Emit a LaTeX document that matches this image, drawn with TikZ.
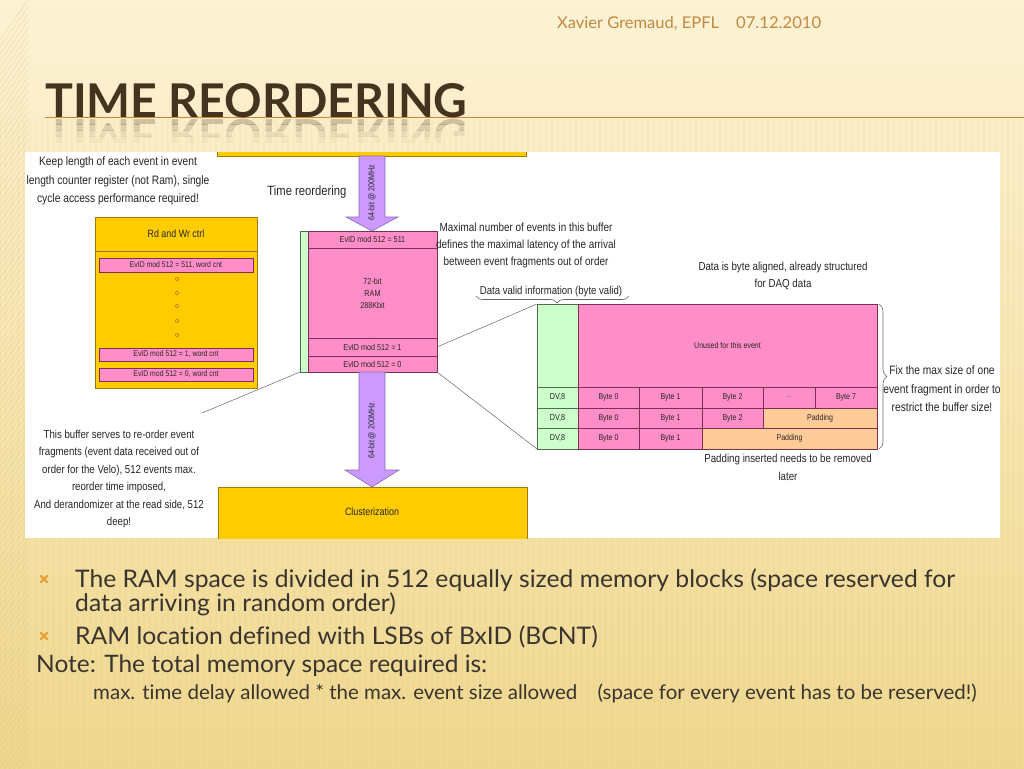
\documentclass[tikz,border=0pt]{standalone}
\usepackage{fontspec}
\setmainfont{Liberation Sans}
\newfontfamily\nar[FakeStretch=0.84]{Liberation Sans}
\newfontfamily\ttlfont{Lato}
\newfontfamily\bodyfont[FakeStretch=1.02,Ligatures=NoCommon]{Lato}
\usetikzlibrary{decorations.pathreplacing}
\definecolor{ylw}{HTML}{FFCC00}
\definecolor{ylwd}{HTML}{A07A10}
\definecolor{pnk}{HTML}{FF8EC8}
\definecolor{pnkd}{HTML}{7A3050}
\definecolor{grn}{HTML}{CCFFCC}
\definecolor{grnd}{HTML}{4F6A4F}
\definecolor{org}{HTML}{FFCC99}
\definecolor{prp}{HTML}{CC99FF}
\definecolor{prpd}{HTML}{8A6AB8}
\definecolor{ttl}{HTML}{45321F}
\definecolor{hdr}{HTML}{C08A3E}
\definecolor{bul}{HTML}{E8A33A}
\definecolor{btxt}{HTML}{3A342E}
\definecolor{txt}{HTML}{262626}
\definecolor{bgtop}{HTML}{FCF2D4}
\definecolor{bgmid}{HTML}{F7E6B2}
\definecolor{bgbot}{HTML}{EFD78E}
\newcommand{\fs}[2]{\fontsize{#1}{#2}\selectfont}
\newcommand{\boxn}[7]{\node[#6, minimum width={(#4-#2)*1pt}, minimum height={(#5-#3)*1pt}] (#1) at (#2,#3) {#7};}
\newcommand{\ttltext}{TIME REORDERING}
\tikzset{
  cellbase/.style={anchor=north west, inner sep=0pt, outer sep=0pt, align=center, text=txt},
  ycell/.style={cellbase, fill=ylw, draw=ylwd, line width=0.7pt},
  pcell/.style={cellbase, fill=pnk, draw=pnkd, line width=0.5pt, font=\nar\fs{8.6}{12}},
  gcell/.style={cellbase, fill=grn, draw=grnd, line width=0.5pt, font=\nar\fs{8.6}{12}},
  ocell/.style={cellbase, fill=org, draw=pnkd, line width=0.5pt, font=\nar\fs{8.6}{12}},
  dtext/.style={inner sep=0pt, align=center, text=txt},
  fatarr/.style={fill=prp, draw=prpd, line width=0.6pt},
  rlab/.style={rotate=90, inner sep=0pt, text=txt, font=\nar\fs{8.5}{10}},
  conn/.style={draw=black!60, line width=0.5pt},
  brc/.style={draw=black!60, line width=0.6pt, decorate},
  btext/.style={anchor=base west, inner sep=0pt, text=btxt},
  bmark/.style={draw=bul, line width=2.4pt, line cap=round},
  ttlstyle/.style={anchor=base west, inner sep=0pt, text=ttl, font=\ttlfont\bfseries\fs{46.5}{47}},
}
\begin{document}
\begin{tikzpicture}[x=1pt,y=-1pt]
\useasboundingbox (0,0) rectangle (1024,768);
% slide background
\shade[top color=bgtop, bottom color=bgbot, middle color=bgmid] (0,0) rectangle (1024,768);
\foreach \i in {0,6,...,1020} {
  \draw[bgbot!80!brown, opacity=0.10, line width=1.2pt] (\i,120) -- (\i,768);
}
\foreach \i in {0,7,...,760} {
  \draw[bgbot!70!brown, opacity=0.25, line width=1.2pt] (0,\i+40) -- (28,\i);
}
% header
\node[anchor=base west, inner sep=0pt, text=hdr, font=\bodyfont\fs{16.2}{18}] (auth) at (557,29) {Xavier Gremaud, EPFL};
\node[anchor=base west, inner sep=0pt, text=hdr, font=\bodyfont\fs{16.3}{18}] (date) at (736,29) {07.12.2010};
% title rule and title
\draw[hdr!80!orange, line width=1pt] (45,117) -- (1024,117);
\node[ttlstyle] (title) at (45,117) {\ttltext};
\foreach \a/\b/\o in {118/124/0.24,124/130/0.16,130/136/0.09,136/142/0.04} {
  \begin{scope}
    \clip (40,\a) rectangle (480,\b);
    \node[ttlstyle, opacity=\o, yscale=-1] at (45,119) {\ttltext};
  \end{scope}
}
% white diagram panel
\node[fill=white, anchor=north west, minimum width=975pt, minimum height=386pt, inner sep=0pt, outer sep=0pt] (panel) at (25,152) {};
% clipped boxes at top and bottom of the panel
\begin{scope}
  \clip (25,152) rectangle (1000,538);
  \boxn{topbar}{217}{130}{526}{156}{ycell}{}
  \boxn{clus}{218}{487}{527}{560}{ycell}{}
\end{scope}
\node[dtext, font=\nar\fs{10.6}{12}] (clustxt) at (372,512) {Clusterization};
% Time reordering label
\node[dtext, font=\nar\fs{13.4}{15}] (ttr) at (307,192) {Time reordering};
% RAM block
\boxn{ramg}{300}{231}{308}{372}{gcell}{}
\boxn{r511}{308}{231}{437}{248}{pcell}{EvID mod 512 = 511}
\boxn{rbody}{308}{248}{437}{338}{pcell}{72-bit\\RAM\\288Kbit}
\boxn{r1}{308}{338}{437}{356}{pcell}{EvID mod 512 = 1}
\boxn{r0}{308}{356}{437}{372}{pcell}{EvID mod 512 = 0}
% fat arrows
\draw[fatarr] (359,156) -- (385,156) -- (385,217) -- (398,217) -- (372,231) -- (346,217) -- (359,217) -- cycle;
\node[rlab] (lab1) at (372,193) {64-bit @ 200MHz};
\draw[fatarr] (359,372) -- (385,372) -- (385,470) -- (399,470) -- (372,487) -- (345,470) -- (359,470) -- cycle;
\node[rlab] (lab2) at (372,431) {64-bit @ 200MHz};
% Rd and Wr ctrl
\boxn{rw}{95}{217}{257}{388}{ycell}{}
\boxn{rwh}{95}{217}{257}{251}{ycell, font=\nar\fs{10.6}{12}}{Rd and Wr ctrl}
\boxn{w511}{99}{258}{253}{272}{pcell, font=\nar\fs{8.2}{10}}{EvID mod 512 = 511, word cnt}
\boxn{w1}{99}{348}{253}{361}{pcell, font=\nar\fs{8.2}{10}}{EvID mod 512 = 1, word cnt}
\boxn{w0}{99}{368}{253}{381}{pcell, font=\nar\fs{8.2}{10}}{EvID mod 512 = 0, word cnt}
\foreach \y in {279,293,306,321,335} {
  \draw[brown!80!orange, line width=0.7pt] (177,\y) circle (1.8);
}
% table
\boxn{tg}{537}{304}{578}{387}{gcell}{}
\boxn{tg1}{537}{387}{578}{408}{gcell}{DV,8}
\boxn{tg2}{537}{408}{578}{428}{gcell}{DV,8}
\boxn{tg3}{537}{428}{578}{449}{gcell}{DV,8}
\boxn{tu}{578}{304}{877}{387}{pcell, font=\nar\fs{8.4}{10}}{Unused for this event}
\boxn{b10}{578}{387}{639}{408}{pcell, font=\nar\fs{8.4}{10}}{Byte 0}
\boxn{b11}{639}{387}{702}{408}{pcell, font=\nar\fs{8.4}{10}}{Byte 1}
\boxn{b12}{702}{387}{763}{408}{pcell, font=\nar\fs{8.4}{10}}{Byte 2}
\boxn{b1d}{763}{387}{815}{408}{pcell, font=\nar\fs{8.4}{10}}{\textcolor{black!60}{...}}
\boxn{b17}{815}{387}{877}{408}{pcell, font=\nar\fs{8.4}{10}}{Byte 7}
\boxn{b20}{578}{408}{639}{428}{pcell, font=\nar\fs{8.4}{10}}{Byte 0}
\boxn{b21}{639}{408}{702}{428}{pcell, font=\nar\fs{8.4}{10}}{Byte 1}
\boxn{b22}{702}{408}{763}{428}{pcell, font=\nar\fs{8.4}{10}}{Byte 2}
\boxn{p2}{763}{408}{877}{428}{ocell, font=\nar\fs{8.4}{10}}{Padding}
\boxn{b30}{578}{428}{639}{449}{pcell, font=\nar\fs{8.4}{10}}{Byte 0}
\boxn{b31}{639}{428}{702}{449}{pcell, font=\nar\fs{8.4}{10}}{Byte 1}
\boxn{p3}{702}{428}{877}{449}{ocell, font=\nar\fs{8.4}{10}}{Padding}
% connectors
\coordinate (cb) at (202,413);
\draw[conn] (r1.east) -- (tg.north west);
\draw[conn] (r0.south east) -- (tg3.south west);
\draw[conn] (ramg.south west) -- (cb);
% braces
\draw[brc, decoration={brace, amplitude=7pt, aspect=0.47}] (629,296) -- (476,296);
\draw[brc, decoration={brace, amplitude=8pt}] (879,304) -- (879,449);
% annotations
\node[dtext, font=\nar\fs{12.2}{18.5}] (tk) at (118,181) {Keep length of each event in event\\length counter register (not Ram), single\\cycle access performance required!};
\node[dtext, font=\nar\fs{11.8}{17}] (tmax) at (526,245) {Maximal number of events in this buffer\\defines the maximal latency of the arrival\\between event fragments out of order};
\node[dtext, font=\nar\fs{11.4}{17}] (tdv) at (551,292) {Data valid information (byte valid)};
\node[dtext, font=\nar\fs{11.6}{17}] (tdaq) at (783,276) {Data is byte aligned, already structured\\for DAQ data};
\node[dtext, font=\nar\fs{11.6}{18}] (tpad) at (788,467) {Padding inserted needs to be removed\\later};
\node[dtext, font=\nar\fs{12.2}{18.5}] (tfix) at (942,389) {Fix the max size of one\\event fragment in order to\\restrict the buffer size!};
\node[dtext, font=\nar\fs{11.5}{17.5}] (tbuf) at (119,479) {This buffer serves to re-order event\\fragments (event data received out of\\order for the Velo), 512 events max.\\reorder time imposed,\\And derandomizer at the read side, 512\\deep!};
% bullet text
\draw[bmark] (41,576) -- (47,582) (47,576) -- (41,582);
\node[btext, font=\bodyfont\fs{24.2}{24}] (l1) at (75,587) {The RAM space is divided in 512 equally sized memory blocks (space reserved for};
\node[btext, font=\bodyfont\fs{24.2}{24}] (l2) at (75,611) {data arriving in random order)};
\draw[bmark] (41,633) -- (47,639) (47,633) -- (41,639);
\node[btext, font=\bodyfont\fs{24.2}{24}] (l3) at (75,644) {RAM location defined with LSBs of BxID (BCNT)};
\node[btext, font=\bodyfont\fs{24}{24}] (l4) at (36,672) {Note: The total memory space required is:};
\node[btext, font=\bodyfont\fs{20.1}{20}] (l5) at (93,699) {max. time delay allowed * the max. event size allowed\hspace{1em}(space for every event has to be reserved!)};
\end{tikzpicture}
\end{document}
